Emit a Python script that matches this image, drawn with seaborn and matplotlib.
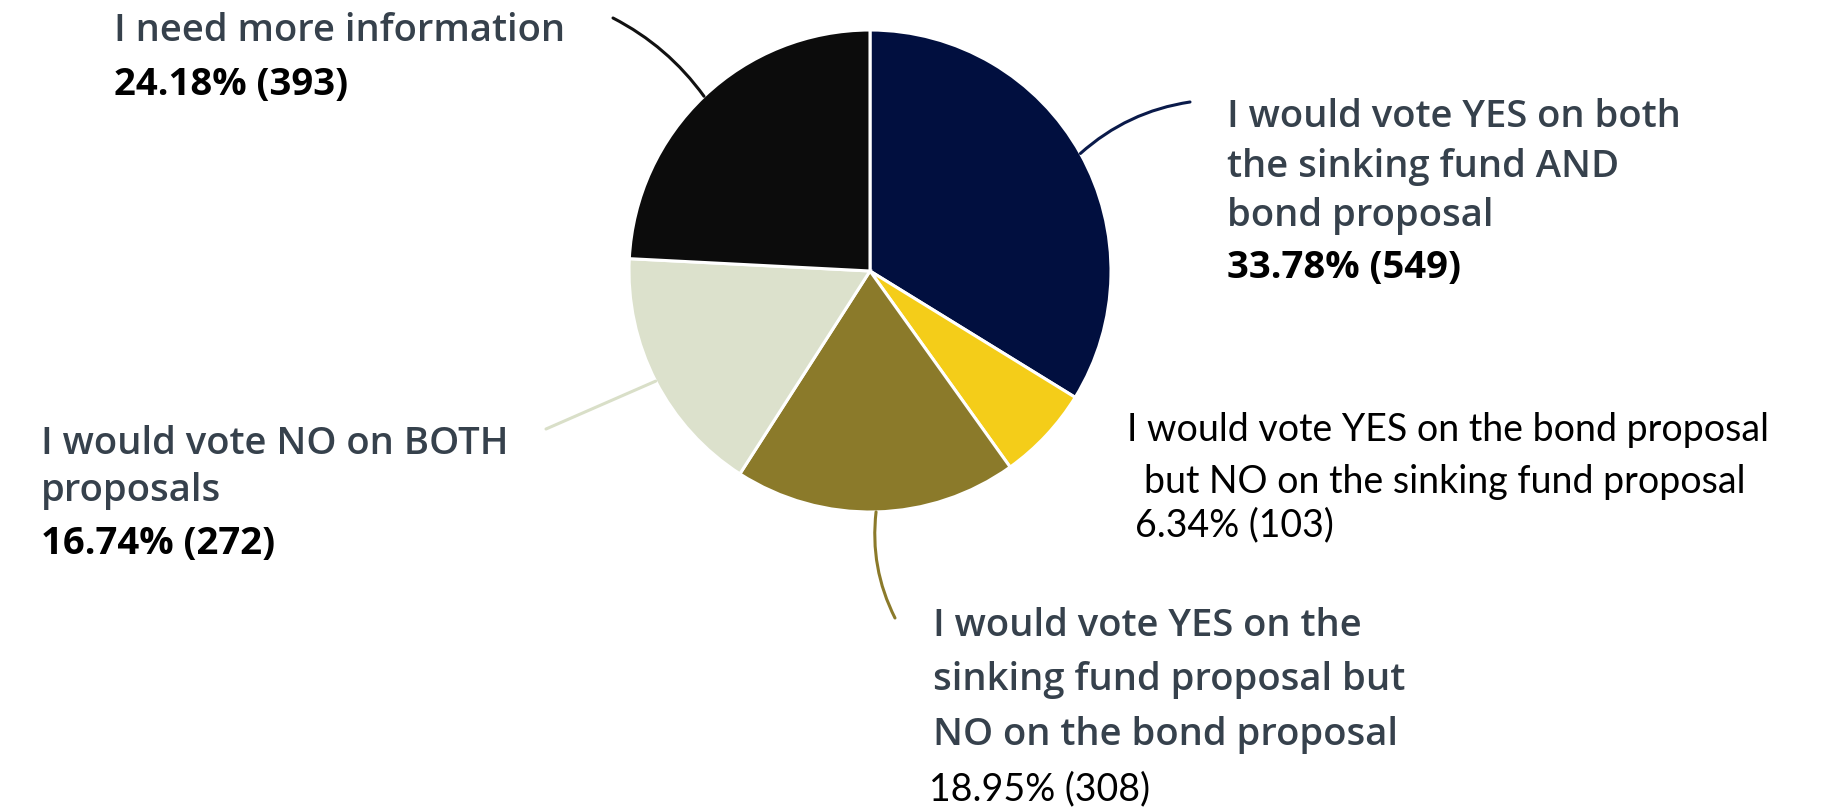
import matplotlib
matplotlib.use("Agg")
import matplotlib.pyplot as plt
import seaborn as sns
import numpy as np

# Survey responses, clockwise from 12 o'clock
categories = [
    "I would vote YES on both the sinking fund AND bond proposal",
    "I would vote YES on the bond proposal but NO on the sinking fund proposal",
    "I would vote YES on the sinking fund proposal but NO on the bond proposal",
    "I would vote NO on BOTH proposals",
    "I need more information",
]
percents = [33.78, 6.34, 18.95, 16.74, 24.18]
counts = [549, 103, 308, 272, 393]
label_lines = [
    ["I would vote YES on both", "the sinking fund AND", "bond proposal"],
    ["I would vote YES on the bond proposal", "but NO on the sinking fund proposal"],
    ["I would vote YES on the", "sinking fund proposal but", "NO on the bond proposal"],
    ["I would vote NO on BOTH", "proposals"],
    ["I need more information"],
]
colors = ["#010f3f", "#f4cd19", "#8b7a2a", "#dce1cc", "#0c0c0c"]
line_colors = ["#0a1a4a", "#f4cd19", "#8b7a2a", "#d9dfc8", "#111111"]

sns.set_theme(style="white")
W, H = 1829, 811
fig = plt.figure(figsize=(W / 100, H / 100), dpi=100)
ax = fig.add_axes([0, 0, 1, 1])

cx, cy, R = 870, H - 271, 241
wedges, _ = ax.pie(
    counts, colors=colors, startangle=90, counterclock=False,
    center=(cx, cy), radius=R,
    wedgeprops=dict(edgecolor="white", linewidth=2.2),
)
ax.set_xlim(0, W)
ax.set_ylim(0, H)
ax.set_aspect("equal")
ax.axis("off")

BOLD = "Open Sans"
LIGHT = "Lato"
label_color = "#36414c"
BSIZE = 27.5
LSIZE = 27

def y(v):
    return H - v

# Leader lines from each wedge's mid-angle out to its label
ends = [(1190, 102), None, (895, 618), (546, 429), (613, 18)]
rads = [0.15, 0, -0.15, 0.0, -0.12]
for w, end, rad, lc in zip(wedges, ends, rads, line_colors):
    if end is None:
        continue
    th = np.deg2rad((w.theta1 + w.theta2) / 2)
    p = (cx + R * np.cos(th), cy + R * np.sin(th))
    ax.annotate("", xy=p, xytext=(end[0], y(end[1])),
                arrowprops=dict(arrowstyle="-", color=lc, lw=2.2,
                                shrinkA=0, shrinkB=0,
                                connectionstyle=f"arc3,rad={rad}"))

def value_text(i):
    return f"{percents[i]:.2f}% ({counts[i]})"

def bold_label(x0, yy, t):
    ax.text(x0, y(yy), t, fontsize=BSIZE, fontfamily=BOLD, fontweight="semibold",
            color=label_color, va="center", ha="left")

def bold_value(x0, yy, t):
    ax.text(x0, y(yy), t, fontsize=BSIZE, fontfamily=BOLD, fontweight="bold",
            color="black", va="center", ha="left")

def light_text(x0, yy, t):
    ax.text(x0, y(yy), t, fontsize=LSIZE, fontfamily=LIGHT, fontweight="normal",
            color="black", va="center", ha="left")

# Yes on both
for t, yy in zip(label_lines[0], [117, 167, 216]):
    bold_label(1227, yy, t)
bold_value(1227, 268, value_text(0))

# Yes on bond only
light_text(1127, 430, label_lines[1][0])
light_text(1144, 482, label_lines[1][1])
light_text(1135, 525, value_text(1))

# Yes on sinking fund only
for t, yy in zip(label_lines[2], [626, 680, 735]):
    bold_label(933, yy, t)
light_text(929, 789, value_text(2))

# No on both
for t, yy in zip(label_lines[3], [444, 491]):
    bold_label(41, yy, t)
bold_value(41, 544, value_text(3))

# Need more information
bold_label(114, 31, label_lines[4][0])
bold_value(114, 85, value_text(4))

fig.savefig("out.png", dpi=100, facecolor="white")
